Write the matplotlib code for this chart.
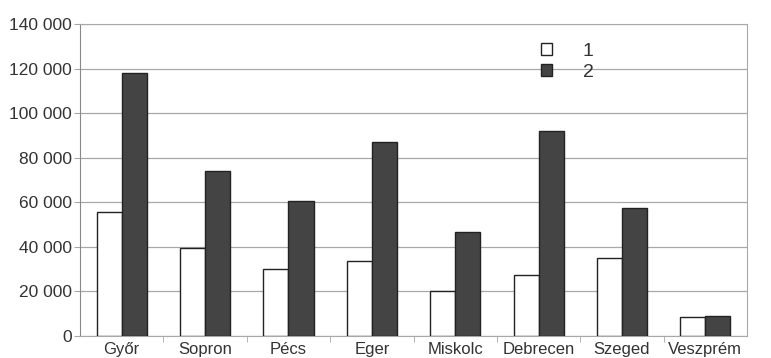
import numpy as np
import matplotlib
matplotlib.use("Agg")
import matplotlib.pyplot as plt
from matplotlib.ticker import FuncFormatter, FixedLocator

plt.rcParams["font.family"] = ["Liberation Sans", "DejaVu Sans"]

cities = ["Győr", "Sopron", "Pécs", "Eger", "Miskolc", "Debrecen", "Szeged", "Veszprém"]
series1 = [55500, 39500, 30000, 33500, 20000, 27500, 35000, 8500]
series2 = [118000, 74000, 60500, 87000, 46500, 92000, 57500, 9000]

GRID = "#a8a8a8"
DARK = "#444444"

fig = plt.figure(figsize=(7.71, 3.58), dpi=100)
ax = fig.add_axes([0.1038, 0.0615, 0.8652, 0.8715])

x = np.arange(len(cities))
w = 0.3
ax.bar(x - w / 2, series1, w, color="white", edgecolor="#222222", lw=1.0, label="1", zorder=3)
ax.bar(x + w / 2, series2, w, color=DARK, edgecolor="#222222", lw=1.0, label="2", zorder=3)

ax.set_xlim(-0.5, len(cities) - 0.5)
ax.set_ylim(0, 140000)
ax.set_yticks(np.arange(0, 140001, 20000))
ax.yaxis.set_major_formatter(FuncFormatter(lambda v, p: f"{int(v):,}".replace(",", " ")))
ax.grid(axis="y", color=GRID, lw=0.9, zorder=0)

# category labels centred, ticks between categories
ax.set_xticks(x)
ax.set_xticklabels(cities, fontsize=12, color="#333333")
ax.tick_params(axis="x", length=0, pad=4)
ax.xaxis.set_minor_locator(FixedLocator(np.arange(0.5, len(cities) - 0.5, 1)))
ax.tick_params(axis="x", which="minor", length=4, color=GRID)
ax.tick_params(axis="y", length=4, color=GRID, labelsize=12.5, labelcolor="#333333", pad=2)

for sp in ax.spines.values():
    sp.set_color(GRID)
ax.spines["left"].set_color("#888888")

ax.legend(loc="upper left", bbox_to_anchor=(0.665, 0.995), frameon=False, fontsize=14,
          handlelength=0.55, handleheight=0.55, handletextpad=1.6, labelspacing=0.2,
          labelcolor="#333333")

fig.savefig("out.png", dpi=100, facecolor="white")
